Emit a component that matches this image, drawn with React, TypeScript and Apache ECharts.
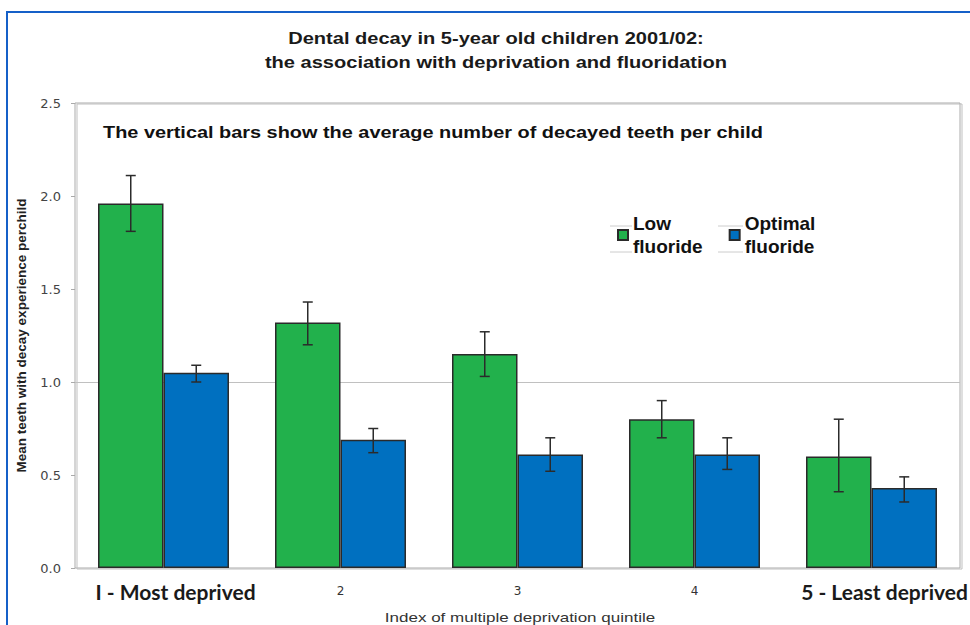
import React, { useEffect, useRef } from "react";
import * as echarts from "echarts";

const categories = ["I - Most deprived", "2", "3", "4", "5 - Least deprived"];
const seriesNames = ["Low fluoride", "Optimal fluoride"];
const lowFluoride = [1.96, 1.32, 1.15, 0.8, 0.6];
const lowFluorideLower = [1.81, 1.2, 1.03, 0.7, 0.41];
const lowFluorideUpper = [2.11, 1.43, 1.27, 0.9, 0.8];
const optimalFluoride = [1.05, 0.69, 0.61, 0.61, 0.43];
const optimalFluorideLower = [1.0, 0.62, 0.52, 0.53, 0.355];
const optimalFluorideUpper = [1.09, 0.75, 0.7, 0.7, 0.49];
const yTicks = { min: 0, max: 2.5, interval: 0.5 };
const referenceLine = 1.0;
const titleText = "Dental decay in 5-year old children 2001/02:\nthe association with deprivation and fluoridation";
const subtitleText = "The vertical bars show the average number of decayed teeth per child";
const xAxisName = "Index of multiple deprivation quintile";
const yAxisName = "Mean teeth with decay experience perchild";

const BAR_FRAC = 0.37;

function errorSeries(name: string, lower: number[], upper: number[], offset: number) {
  return {
    type: "custom",
    name,
    silent: true,
    z: 5,
    data: lower.map((lo, i) => [i, lo, upper[i]]),
    encode: { x: 0, y: [1, 2] },
    renderItem: (params: any, api: any) => {
      const idx = api.value(0);
      const lo = api.coord([idx, api.value(1)]);
      const hi = api.coord([idx, api.value(2)]);
      const catW = api.size([1, 0])[0];
      const x = lo[0] + offset * catW;
      const cap = 5;
      const style = { stroke: "#2b2b2b", lineWidth: 1.5 };
      return {
        type: "group",
        children: [
          { type: "line", shape: { x1: x, y1: lo[1], x2: x, y2: hi[1] }, style },
          { type: "line", shape: { x1: x - cap, y1: lo[1], x2: x + cap, y2: lo[1] }, style },
          { type: "line", shape: { x1: x - cap, y1: hi[1], x2: x + cap, y2: hi[1] }, style },
        ],
      };
    },
  };
}

export default function App() {
  const ref = useRef<HTMLDivElement>(null);
  useEffect(() => {
    if (!ref.current) return;
    const chart = echarts.init(ref.current, undefined, { renderer: "svg" });
    const barItem = (color: string) => ({ color, borderColor: "#2a2a2a", borderWidth: 1.5 });
    chart.setOption({
      animation: false,
      backgroundColor: "#ffffff",
      legend: {
        data: seriesNames,
        left: 612,
        top: 207,
        icon: "rect",
        itemWidth: 10,
        itemHeight: 10,
        itemGap: 26,
        formatter: (n: string) => n.replace(" ", "\n"),
        textStyle: {
          fontFamily: "Liberation Sans",
          fontWeight: "bold",
          fontSize: 19,
          lineHeight: 23,
          color: "#111111",
        },
      },
      grid: {
        left: 75,
        top: 103,
        right: 10,
        bottom: 57,
        outerBoundsMode: "none",
        containLabel: false,
        show: true,
        borderColor: "#aaaaaa",
        borderWidth: 1,
        shadowColor: "rgba(0,0,0,0.25)",
        shadowOffsetX: 2,
        shadowOffsetY: 1,
        shadowBlur: 0,
      },
      xAxis: {
        type: "category",
        data: categories,
        axisLine: { show: false },
        axisTick: { show: false },
        axisLabel: {
          interval: 0,
          margin: 10,
          formatter: (v: string, i: number) =>
            i === 0 ? `{big|${v}}` : i === categories.length - 1 ? `{big5|${v}}` : `{small|${v}}`,
          rich: {
            big: { fontFamily: "Lato", fontWeight: "bold", fontSize: 21, lineHeight: 26, color: "#1a1a1a", padding: [0, 0, 0, 24] },
            big5: { fontFamily: "Lato", fontWeight: "bold", fontSize: 21, lineHeight: 26, color: "#1a1a1a", padding: [0, 0, 0, 26] },
            small: { fontFamily: "DejaVu Sans", fontSize: 12, lineHeight: 26, color: "#333333" },
          },
        },
      },
      yAxis: {
        type: "value",
        min: yTicks.min,
        max: yTicks.max,
        interval: yTicks.interval,
        axisLine: { show: false },
        axisTick: { show: true, length: 4, lineStyle: { color: "#aaaaaa" } },
        splitLine: { show: false },
        axisLabel: {
          margin: 14,
          formatter: (v: number) => v.toFixed(1),
          fontFamily: "DejaVu Sans",
          fontSize: 13,
          color: "#444444",
        },
        name: yAxisName,
        nameLocation: "middle",
        nameGap: 47,
        nameTextStyle: { fontFamily: "Liberation Sans", fontWeight: "bold", fontSize: 13.5, color: "#222222" },
      },
      graphic: [
        {
          type: "rect",
          shape: { x: 7, y: 12, width: 1000, height: 700 },
          style: { fill: "none", stroke: "#1560c8", lineWidth: 2 },
          silent: true,
        },
        {
          type: "text",
          x: 496,
          y: 26,
          scaleX: 1.18,
          style: {
            text: titleText,
            fontFamily: "Liberation Sans",
            fontWeight: "bold",
            fontSize: 17,
            lineHeight: 24,
            fill: "#1a1a1a",
            textAlign: "center",
            textVerticalAlign: "top",
          },
        },
        {
          type: "text",
          x: 103,
          y: 132,
          scaleX: 1.17,
          style: {
            text: subtitleText,
            fontFamily: "Liberation Sans",
            fontWeight: "bold",
            fontSize: 17,
            fill: "#111111",
            textVerticalAlign: "middle",
          },
          z: 10,
        },
        {
          type: "text",
          x: 520,
          y: 617,
          scaleX: 1.31,
          style: {
            text: xAxisName,
            fontFamily: "Liberation Sans",
            fontSize: 13,
            fill: "#333333",
            textAlign: "center",
            textVerticalAlign: "middle",
          },
        },
        { type: "line", shape: { x1: 610, y1: 226, x2: 632, y2: 226 }, style: { stroke: "#cccccc", lineWidth: 1 } },
        { type: "line", shape: { x1: 610, y1: 252, x2: 632, y2: 252 }, style: { stroke: "#cccccc", lineWidth: 1 } },
        { type: "line", shape: { x1: 718, y1: 226, x2: 743, y2: 226 }, style: { stroke: "#cccccc", lineWidth: 1 } },
        { type: "line", shape: { x1: 718, y1: 252, x2: 743, y2: 252 }, style: { stroke: "#cccccc", lineWidth: 1 } },
      ],
      series: [
        {
          type: "bar",
          name: seriesNames[0],
          data: lowFluoride,
          barWidth: `${BAR_FRAC * 100}%`,
          barGap: "0%",
          itemStyle: barItem("#22b14c"),
          z: 3,
          markLine: {
            silent: true,
            symbol: "none",
            label: { show: false },
            lineStyle: { color: "#c0c0c0", type: "solid", width: 1 },
            data: [{ yAxis: referenceLine }],
            z: 1,
          },
        },
        {
          type: "bar",
          name: seriesNames[1],
          data: optimalFluoride,
          barWidth: `${BAR_FRAC * 100}%`,
          barGap: "0%",
          itemStyle: barItem("#0070c0"),
          z: 3,
        },
        errorSeries("Low fluoride error", lowFluorideLower, lowFluorideUpper, -BAR_FRAC / 2),
        errorSeries("Optimal fluoride error", optimalFluorideLower, optimalFluorideUpper, BAR_FRAC / 2),
      ],
    });
    return () => chart.dispose();
  }, []);
  return <div ref={ref} style={{ position: "fixed", left: 0, top: 0, width: 970, height: 625 }} />;
}
